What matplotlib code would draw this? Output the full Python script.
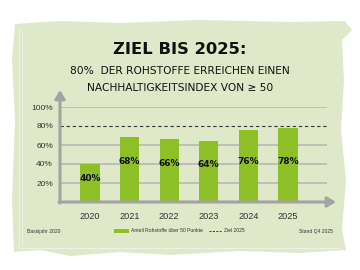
import matplotlib.pyplot as plt
from matplotlib.patches import Polygon, Rectangle
from matplotlib.lines import Line2D

years = ["2020", "2021", "2022", "2023", "2024", "2025"]
share = [40, 68, 66, 64, 76, 78]
target = 80
yticks = [20, 40, 60, 80, 100]

W, H = 360, 270
PANEL = "#dfe8c9"
BAR = "#8dbf27"
GRID = "#b9b9b2"
AXIS = "#a3a3a3"
HAND = dict(family="DejaVu Sans")


def fx(px):
    return px / W


def fy(py):
    return 1 - py / H


fig = plt.figure(figsize=(3.6, 2.7), dpi=100)
fig.patch.set_facecolor("white")

# brushed background panel
edge = [(15, 24), (60, 21), (120, 23), (200, 20), (290, 22), (345, 21), (352, 30),
        (342, 40), (344, 80), (341, 130), (346, 180), (342, 230), (346, 250),
        (300, 253), (240, 251), (170, 255), (120, 252), (70, 256), (40, 250),
        (14, 252), (12, 200), (15, 120), (12, 60)]
fig.patches.append(Polygon([(fx(x), fy(y)) for x, y in edge], closed=True,
                           transform=fig.transFigure, facecolor=PANEL,
                           edgecolor="none", zorder=-2))
for x0, y0, x1, y1 in [(19, 28, 19, 248), (19, 248, 340, 248), (22, 32, 22, 245)]:
    fig.add_artist(Line2D([fx(x0), fx(x1)], [fy(y0), fy(y1)], color="#f2f5ea",
                          lw=0.6, transform=fig.transFigure, zorder=-1))

# titles
fig.text(0.5, fy(49), "ZIEL BIS 2025:", ha="center", va="center", fontsize=11.8,
         fontweight="bold", color="#111111", **HAND)
fig.text(0.5, fy(71), "80%  DER ROHSTOFFE ERREICHEN EINEN", ha="center",
         va="center", fontsize=7.7, color="#111111", **HAND)
fig.text(0.5, fy(88), "NACHHALTIGKEITSINDEX VON \u2265 50", ha="center",
         va="center", fontsize=7.7, color="#111111", **HAND)

# plot area: y=0 at 202px, y=100 at 107px, bar spacing ~39.6px
left, right, bottom, top = 60, 327, 202, 107
ax = fig.add_axes([fx(left), fy(bottom), fx(right - left), (bottom - top) / H])
ax.set_zorder(2)
ax.set_facecolor("none")
step = 39.6
x = list(range(len(years)))
ax.set_xlim(-(90 - left) / step, (right - 90) / step)
ax.set_ylim(0, 100)

for t in yticks:
    if t == target:
        continue
    ax.axhline(t, color=GRID, lw=1.2, zorder=1)
ax.axhline(target, color="#333333", lw=0.8, ls=(0, (3, 2.5)), zorder=3)

ax.bar(x, share, width=0.48, color=BAR, zorder=2)
for xi, v in zip(x, share):
    ax.text(xi, min(43, v * 0.62), f"{v}%", ha="center", va="center",
            fontsize=6.5, fontweight="bold", color="#111111", zorder=4, **HAND)

for s in ax.spines.values():
    s.set_visible(False)
ax.tick_params(length=0)
ax.set_yticks(yticks)
ax.set_yticklabels([f"{t}%" for t in yticks], fontsize=6, color="#333333",
                   family="Liberation Sans")
ax.set_xticks(x)
ax.set_xticklabels(years, fontsize=6.6, color="#333333", family="Liberation Sans")
ax.tick_params(axis="y", pad=5)
ax.tick_params(axis="x", pad=7)

# axes with arrows
ax.annotate("", xy=(fx(336), fy(bottom)), xytext=(fx(left - 1), fy(bottom)),
            xycoords="figure fraction",
            arrowprops=dict(arrowstyle="-|>,head_length=0.5,head_width=0.3",
                            color=AXIS, lw=2.2, shrinkA=0, shrinkB=0))
ax.annotate("", xy=(fx(left), fy(90)), xytext=(fx(left), fy(bottom + 1)),
            xycoords="figure fraction",
            arrowprops=dict(arrowstyle="-|>,head_length=0.5,head_width=0.3",
                            color=AXIS, lw=2.2, shrinkA=0, shrinkB=0))

# footer / legend
fig.text(fx(27), fy(231), "Basisjahr 2020", fontsize=3.6, va="center",
         color="#333333", family="Liberation Sans")
fig.text(fx(333), fy(231), "Stand Q4 2025", fontsize=3.6, va="center", ha="right",
         color="#333333", family="Liberation Sans")
fig.patches.append(Rectangle((fx(114), fy(233)), fx(15), 4 / H,
                             transform=fig.transFigure, facecolor=BAR,
                             edgecolor="none"))
fig.text(fx(131), fy(231), "Anteil Rohstoffe über 50 Punkte", fontsize=3.6,
         va="center", color="#333333", family="Liberation Sans")
fig.add_artist(Line2D([fx(209), fx(221)], [fy(231), fy(231)], color="#333333",
                      lw=0.7, ls=(0, (2, 1.5)), transform=fig.transFigure))
fig.text(fx(224), fy(231), "Ziel 2025", fontsize=3.6, va="center",
         color="#333333", family="Liberation Sans")

fig.savefig("out.png", dpi=100)
